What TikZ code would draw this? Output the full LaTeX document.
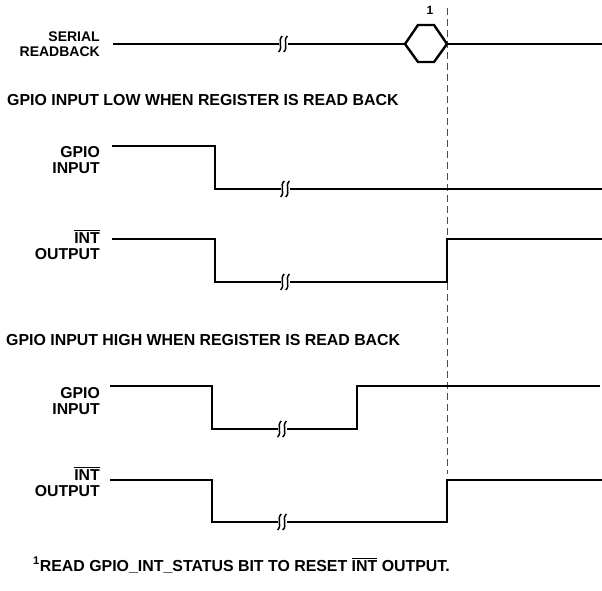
\documentclass[tikz,border=0pt]{standalone}
\usepackage{fontspec}
\setmainfont{Liberation Sans}
\newcommand\ovl[1]{\leavevmode\vbox{\hrule height 1pt\kern1.3pt\hbox{#1}}}
\newcommand\sigbreak[2]{%
  \fill[white] (#1-4.5,#2-3) rectangle (#1+4.5,#2+3);
  \foreach \dx in {-2.6,2.6}
    \draw[line width=1.5pt] (#1+\dx+1.8,#2-8) .. controls (#1+\dx-3.2,#2-3) and (#1+\dx+3.2,#2+3) .. (#1+\dx-1.8,#2+8);
}
\begin{document}
\begin{tikzpicture}[x=1pt,y=-1pt,
  sig/.style={line width=2.4pt, line join=miter},
  lbl/.style={font=\fontsize{15.8}{16.5}\selectfont\bfseries, align=right, anchor=east, inner sep=0pt},
  hd/.style={font=\fontsize{15.9}{17}\selectfont\bfseries, anchor=west, inner sep=0pt},
  guide/.style={line width=1pt, draw=black!70, dash pattern=on 7pt off 4pt}]
\useasboundingbox (0,0) rectangle (602,591);

% labels
\node[lbl, font=\fontsize{14}{15.5}\selectfont\bfseries] (serial) at (100,44) {SERIAL\\READBACK};
\node[hd] (h1) at (7,100) {GPIO INPUT LOW WHEN REGISTER IS READ BACK};
\node[lbl] (gpio1) at (100,160) {GPIO\\INPUT};
\node[lbl] (int1) at (100,245) {\ovl{INT}\\OUTPUT};
\node[hd] (h2) at (6,340) {GPIO INPUT HIGH WHEN REGISTER IS READ BACK};
\node[lbl] (gpio2) at (100,401) {GPIO\\INPUT};
\node[lbl] (int2) at (100,482) {\ovl{INT}\\OUTPUT};
\node[hd] (foot) at (33,565) {\textsuperscript{1}READ GPIO\_INT\_STATUS BIT TO RESET \ovl{INT} OUTPUT.};
\node[font=\fontsize{12}{12}\selectfont\bfseries, inner sep=0pt] (one) at (430,10) {1};

% guide line
\draw[guide] (447,8) -- (447,474);

% serial readback
\draw[sig] (113,44) -- (405,44);
\draw[sig] (405,44) -- (418,25) -- (434,25) -- (447,44) -- (434,62) -- (418,62) -- cycle;
\draw[sig] (447,44) -- (602,44);
\sigbreak{283}{44}

% GPIO input low case
\draw[sig] (112,146) -- (215,146) -- (215,189) -- (602,189);
\sigbreak{285}{189}
\draw[sig] (112,239) -- (215,239) -- (215,282) -- (447,282) -- (447,239) -- (602,239);
\sigbreak{285}{282}

% GPIO input high case
\draw[sig] (110,386) -- (212,386) -- (212,429) -- (357,429) -- (357,386) -- (600,386);
\sigbreak{282}{429}
\draw[sig] (110,480) -- (212,480) -- (212,522) -- (447,522) -- (447,480) -- (602,480);
\sigbreak{282}{522}
\end{tikzpicture}
\end{document}
